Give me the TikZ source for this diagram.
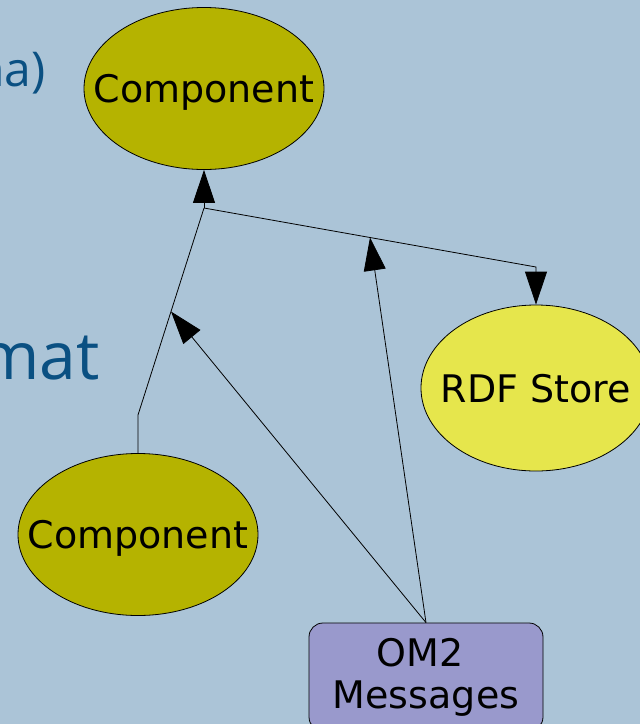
\documentclass[tikz,border=0pt]{standalone}
\usepackage{fontspec}
\setmainfont{DejaVu Sans}
\newfontfamily\titlefont{Open Sans}
\usetikzlibrary{arrows.meta,shapes.geometric,calc}
\definecolor{bg}{HTML}{ABC4D7}
\definecolor{olive}{HTML}{B5B300}
\definecolor{rdfyellow}{HTML}{E6E64C}
\definecolor{lav}{HTML}{9999CC}
\definecolor{titleblue}{HTML}{0A5082}
\newcommand{\zw}[1]{\makebox[0pt]{#1}}
\begin{document}
\begin{tikzpicture}[x=1pt,y=-1pt,
  comp/.style={ellipse,draw=black,line width=0.8pt,fill=olive,minimum width=240pt,minimum height=162pt,inner sep=0pt,font=\fontsize{38}{42}\selectfont,text height=28pt,text depth=0pt},
  store/.style={comp,fill=rdfyellow,minimum width=230pt,minimum height=166pt},
  msgbox/.style={draw=black,line width=0.8pt,fill=lav,rounded corners=14pt,minimum width=234pt,minimum height=108pt,inner sep=0pt,align=center,font=\fontsize{38}{42}\selectfont},
  link/.style={draw=black,line width=0.8pt},
  tip/.style={-{Triangle[length=33pt,width=22pt]}},
  title/.style={text=titleblue,inner sep=0pt,anchor=base east}]
\fill[bg] (0,0) rectangle (640,724);
\useasboundingbox (0,0) rectangle (640,724);
\node[title,font=\titlefont\fontsize{48}{56}\selectfont] (t1) at (46,86) {na)};
\node[title,font=\titlefont\fontsize{66}{70}\selectfont] (t2) at (100,379) {mat};
\node[comp] (top) at (204,88.5) {\zw{Component}};
\node[comp] (low) at (138,534.5) {\zw{Component}};
\node[store] (rdf) at (536,388) {\zw{RDF Store}};
\node[msgbox] (om2) at (426,677) {OM2\hspace*{12pt}\\Messages};
\coordinate (j) at (204,208);
\coordinate (bend) at (138,415);
\coordinate (knee) at (536,267);
\coordinate (m1) at ($(j)!0.5!(knee)$);
\coordinate (m2) at ($(j)!0.5!(bend)$);
\draw[link] (low.north) -- (bend) -- (j);
\draw[link,tip] (j) -- (top.south);
\draw[link,tip] (j) -- (knee) -- (rdf.north);
\draw[link,tip] (om2.north) -- (m1);
\draw[link,tip] (om2.north) -- (m2);
\end{tikzpicture}
\end{document}
